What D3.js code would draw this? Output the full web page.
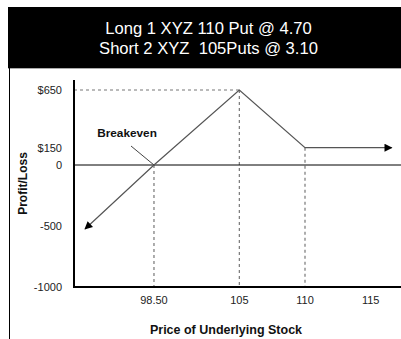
<!DOCTYPE html>
<html>
<head>
<meta charset="utf-8">
<script src="https://cdn.jsdelivr.net/npm/d3@7"></script>
<style>
  html, body { margin: 0; padding: 0; background: #fff; }
  svg { display: block; font-family: "Liberation Sans", Arial, sans-serif; }
</style>
</head>
<body>
<svg id="chart" width="401" height="339"></svg>
<script>
// Payoff of the put ratio spread
const titleLines = ["Long 1 XYZ 110 Put @ 4.70", "Short 2 XYZ  105Puts @ 3.10"];
const payoffPrices = [93.25, 98.5, 105, 110, 116.6];
const payoffValues = [-525, 0, 650, 150, 150];
const xTickValues = [98.5, 105, 110, 115];
const xTickLabels = ["98.50", "105", "110", "115"];
const yTickValues = [650, 150, 0, -500, -1000];
const yTickLabels = ["$650", "$150", "0", "-500", "-1000"];
const breakevenPrice = 98.5;
const peak = { price: 105, value: 650 };
const floorPoint = { price: 110, value: 150 };

const svg = d3.select("#chart");

// header band
svg.append("rect").attr("x", 8).attr("y", 7).attr("width", 393).attr("height", 61).attr("fill", "#000");
svg.append("line").attr("x1", 8).attr("x2", 401).attr("y1", 68.5).attr("y2", 68.5)
  .attr("stroke", "#aaa").attr("stroke-width", 1);
svg.append("line").attr("x1", 9.5).attr("x2", 9.5).attr("y1", 68).attr("y2", 339)
  .attr("stroke", "#000").attr("stroke-width", 1);

svg.selectAll("text.title").data(titleLines).join("text")
  .attr("class", "title")
  .attr("x", 208.5).attr("y", (d, i) => 33.5 + i * 20)
  .attr("text-anchor", "middle")
  .attr("fill", "#fff").attr("font-size", 16.6)
  .style("white-space", "pre")
  .text(d => d);

// scales
const x = d3.scaleLinear().domain([92.41, 117.31]).range([74, 401]);
const y = d3.scaleLinear().domain([-1000, 0, 650]).range([287, 165, 90]);

const defs = svg.append("defs");
defs.append("marker").attr("id", "arrow").attr("viewBox", "0 0 10 10")
  .attr("refX", 9).attr("refY", 5).attr("markerWidth", 10).attr("markerHeight", 8)
  .attr("markerUnits", "userSpaceOnUse").attr("orient", "auto")
  .append("path").attr("d", "M0,0 L10,5 L0,10 z").attr("fill", "#000");
defs.append("marker").attr("id", "arrowStart").attr("viewBox", "0 0 10 10")
  .attr("refX", 9).attr("refY", 5).attr("markerWidth", 10).attr("markerHeight", 8)
  .attr("markerUnits", "userSpaceOnUse").attr("orient", "auto-start-reverse")
  .append("path").attr("d", "M0,0 L10,5 L0,10 z").attr("fill", "#000");

// dashed guide lines
const dash = { stroke: "#777", width: 1.2, dash: "3,3" };
const guides = [
  [x.domain()[0], peak.value, peak.price, peak.value],
  [peak.price, peak.value, peak.price, -1000],
  [breakevenPrice, 0, breakevenPrice, -1000],
  [floorPoint.price, floorPoint.value, floorPoint.price, -1000]
];
svg.selectAll("line.guide").data(guides).join("line")
  .attr("class", "guide")
  .attr("x1", d => x(d[0])).attr("y1", d => y(d[1]))
  .attr("x2", d => x(d[2])).attr("y2", d => y(d[3]))
  .attr("stroke", dash.stroke).attr("stroke-width", dash.width)
  .attr("stroke-dasharray", dash.dash);

// zero line
svg.append("line").attr("x1", x.range()[0]).attr("x2", x.range()[1])
  .attr("y1", y(0)).attr("y2", y(0)).attr("stroke", "#000").attr("stroke-width", 1);

// axes
svg.append("line").attr("x1", 74).attr("x2", 74).attr("y1", 80).attr("y2", y(-1000) + 1)
  .attr("stroke", "#000").attr("stroke-width", 2);
svg.append("line").attr("x1", 73).attr("x2", 401).attr("y1", y(-1000)).attr("y2", y(-1000))
  .attr("stroke", "#000").attr("stroke-width", 2);

// payoff line
const pts = payoffPrices.map((p, i) => [p, payoffValues[i]]);
svg.append("path").datum(pts)
  .attr("d", d3.line().x(d => x(d[0])).y(d => y(d[1])))
  .attr("fill", "none").attr("stroke", "#555").attr("stroke-width", 1.2)
  .attr("marker-start", "url(#arrowStart)").attr("marker-end", "url(#arrow)");

// breakeven callout
svg.append("text").attr("x", 127).attr("y", 137).attr("text-anchor", "middle")
  .attr("font-size", 11.8).attr("font-weight", "bold").attr("fill", "#111")
  .text("Breakeven");
svg.append("line").attr("x1", 131).attr("y1", 146)
  .attr("x2", x(breakevenPrice)).attr("y2", y(0))
  .attr("stroke", "#444").attr("stroke-width", 1);

// tick labels
svg.selectAll("text.ytick").data(yTickValues).join("text")
  .attr("class", "ytick")
  .attr("x", 62).attr("y", d => y(d) + 4)
  .attr("text-anchor", "end").attr("font-size", 11).attr("fill", "#222")
  .text((d, i) => yTickLabels[i]);
svg.selectAll("text.xtick").data(xTickValues).join("text")
  .attr("class", "xtick")
  .attr("x", d => x(d)).attr("y", 304)
  .attr("text-anchor", "middle").attr("font-size", 11).attr("fill", "#222")
  .text((d, i) => xTickLabels[i]);

// axis titles
svg.append("text").attr("transform", "translate(27,183.5) rotate(-90)")
  .attr("text-anchor", "middle").attr("font-size", 12).attr("font-weight", "bold")
  .attr("fill", "#111").text("Profit/Loss");
svg.append("text").attr("x", 226).attr("y", 334)
  .attr("text-anchor", "middle").attr("font-size", 12.5).attr("font-weight", "bold")
  .attr("fill", "#111").text("Price of Underlying Stock");
</script>
</body>
</html>
